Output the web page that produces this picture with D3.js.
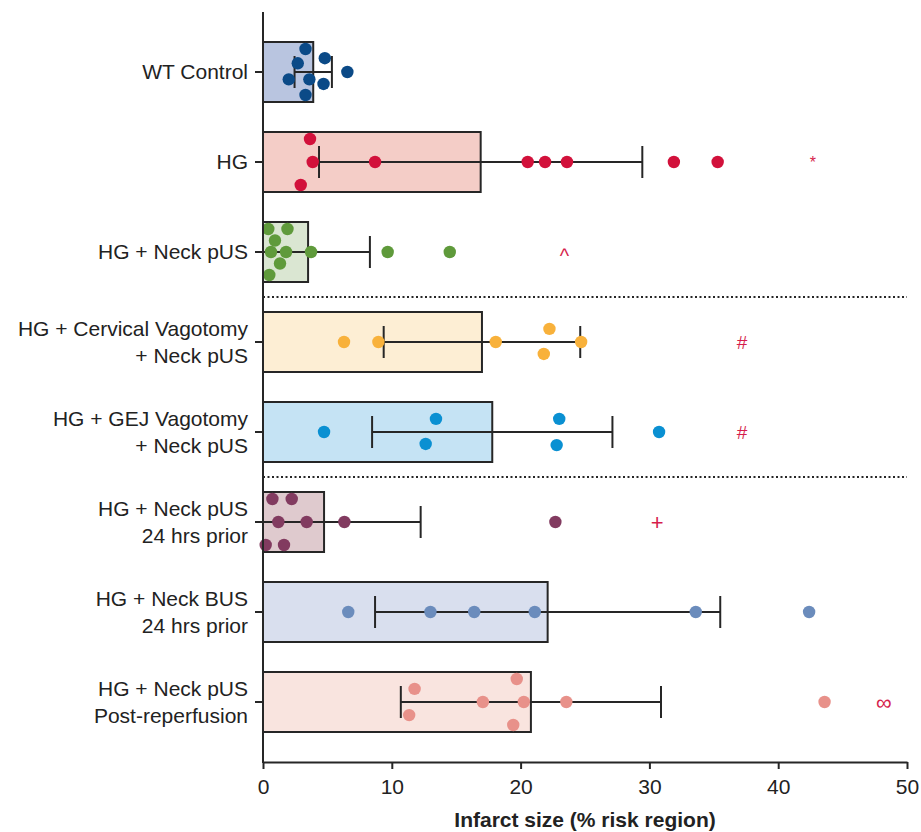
<!DOCTYPE html>
<html>
<head>
<meta charset="utf-8">
<script src="https://cdn.jsdelivr.net/npm/d3@7"></script>
<style>
  body { margin: 0; background: #fff; }
  text { font-family: "Liberation Sans", Arial, Helvetica, sans-serif; }
</style>
</head>
<body>
<div id="chart"></div>
<script>
// group labels (top to bottom)
const groups = [
    "WT Control",
    "HG",
    "HG + Neck pUS",
    "HG + Cervical Vagotomy\n+ Neck pUS",
    "HG + GEJ Vagotomy\n+ Neck pUS",
    "HG + Neck pUS\n24 hrs prior",
    "HG + Neck BUS\n24 hrs prior",
    "HG + Neck pUS\nPost-reperfusion"
];

// bar heights (mean) and error bar half-width
const means = [3.9, 16.9, 3.5, 17.0, 17.8, 4.74, 22.1, 20.8];
const errors = [1.45, 12.55, 4.8, 7.63, 9.33, 7.5, 13.4, 10.1];

// individual animals
const pointValues = [
    [3.3, 4.8, 2.7, 6.55, 2.0, 3.6, 4.7, 3.3],
    [3.65, 3.86, 2.93, 8.7, 20.55, 21.9, 23.6, 31.9, 35.3],
    [0.41, 1.9, 0.93, 0.62, 1.79, 3.73, 1.32, 0.49, 9.68, 14.5],
    [6.29, 8.96, 18.07, 22.24, 21.8, 24.7],
    [4.74, 13.43, 12.63, 23.0, 22.8, 30.75],
    [0.73, 2.23, 1.19, 3.39, 6.32, 0.21, 1.63, 22.7],
    [6.62, 13.0, 16.4, 21.1, 33.6, 42.4],
    [11.77, 11.35, 17.07, 20.25, 19.7, 19.43, 23.55, 43.6]
];
// swarm lane of each point (-1 = top, 1 = bottom)
const pointLanes = [
    [-1, -0.6, -0.38, 0, 0.32, 0.32, 0.52, 1],
    [-1, 0, 1, 0, 0, 0, 0, 0, 0],
    [-1, -1, -0.5, 0, 0, 0, 0.5, 1, 0, 0],
    [0, 0, 0, -0.57, 0.52, 0],
    [0, -0.57, 0.52, -0.57, 0.57, 0],
    [-1, -1, 0, 0, 0, 1, 1, 0],
    [0, 0, 0, 0, 0, 0],
    [-0.57, 0.57, 0, 0, -1, 1, 0, 0]
];

// significance symbols and where they sit on the x scale
const marks = ["", "*", "^", "#", "#", "+", "", "\u221e"];
const markX = [null, 42.7, 23.4, 37.2, 37.2, 30.6, null, 48.2];

const dotColors = ["#0b4a87", "#d2113b", "#5f9a3b", "#f8b13b", "#0a90d2", "#823b60", "#6b8cbc", "#e8918a"];
const barFills = ["#b9c5e0", "#f4cdc7", "#dae6d2", "#fdeed4", "#c5e3f4", "#dfcace", "#d9dfee", "#f9e4df"];

const xTicks = [0, 10, 20, 30, 40, 50];
const separators = [2, 4]; // dotted line after these rows

const width = 921, height = 832;
const ink = "#262626";
const markColor = "#d61e4c";
const fontSize = 21;

const rows = groups.map((g, i) => ({
    i, label: g, mean: means[i], err: errors[i],
    dots: pointValues[i].map((v, k) => ({ v, lane: pointLanes[i][k] })),
    mark: marks[i], markX: markX[i]
}));

const x = d3.scaleLinear().domain([0, 50]).range([263, 907]);
const y = d3.scaleBand().domain(groups).range([27, 747])
    .paddingInner(1 / 3).paddingOuter(1 / 6);
const lane = d3.scaleLinear().domain([-1, 1]).range([-23, 23]);
const cy = d => y(d.label) + y.bandwidth() / 2;

const svg = d3.create("svg")
    .attr("width", width)
    .attr("height", height);

// bars
svg.append("g")
    .selectAll("rect")
    .data(rows)
    .join("rect")
    .attr("x", x(0))
    .attr("y", d => y(d.label))
    .attr("width", d => x(d.mean) - x(0))
    .attr("height", y.bandwidth())
    .attr("fill", d => barFills[d.i])
    .attr("stroke", ink)
    .attr("stroke-width", 2);

// error bars (clipped at zero)
const eb = svg.append("g")
    .attr("stroke", ink)
    .attr("stroke-width", 2)
    .selectAll("g")
    .data(rows)
    .join("g");
eb.append("line")
    .attr("x1", d => x(Math.max(0, d.mean - d.err)))
    .attr("x2", d => x(d.mean + d.err))
    .attr("y1", cy)
    .attr("y2", cy);
eb.filter(d => d.mean - d.err > 0)
    .append("line")
    .attr("x1", d => x(d.mean - d.err))
    .attr("x2", d => x(d.mean - d.err))
    .attr("y1", d => cy(d) - 16)
    .attr("y2", d => cy(d) + 16);
eb.append("line")
    .attr("x1", d => x(d.mean + d.err))
    .attr("x2", d => x(d.mean + d.err))
    .attr("y1", d => cy(d) - 16)
    .attr("y2", d => cy(d) + 16);

// dots
svg.append("g")
    .selectAll("g")
    .data(rows)
    .join("g")
    .attr("fill", d => dotColors[d.i])
    .selectAll("circle")
    .data(d => d.dots.map(p => ({ ...p, label: d.label })))
    .join("circle")
    .attr("cx", d => x(d.v))
    .attr("cy", d => cy(d) + lane(d.lane))
    .attr("r", 6.2);

// significance marks
svg.append("g")
    .selectAll("text")
    .data(rows.filter(d => d.mark))
    .join("text")
    .attr("x", d => x(d.markX))
    .attr("y", cy)
    .attr("dy", d => d.mark === "^" ? "0.55em" : "0.35em")
    .attr("text-anchor", "middle")
    .attr("fill", markColor)
    .attr("font-size", d => d.mark === "*" ? 16 : d.mark === "#" ? 19 : d.mark === "^" ? 20 : 22)
    .text(d => d.mark);

// dotted separators
svg.append("g")
    .selectAll("line")
    .data(separators)
    .join("line")
    .attr("x1", x(0))
    .attr("x2", x(50))
    .attr("y1", d => y(groups[d]) + y.step() * 5 / 6)
    .attr("y2", d => y(groups[d]) + y.step() * 5 / 6)
    .attr("stroke", ink)
    .attr("stroke-width", 2)
    .attr("stroke-dasharray", "2,2.5");

// x axis
const xAxis = svg.append("g")
    .attr("transform", `translate(0, 762)`)
    .call(d3.axisBottom(x).tickValues(xTicks).tickSize(7).tickPadding(10).tickSizeOuter(0));
xAxis.select(".domain").attr("stroke", ink).attr("stroke-width", 2);
xAxis.selectAll(".tick line").attr("stroke", ink).attr("stroke-width", 2);
xAxis.selectAll(".tick text").attr("fill", "#222").attr("font-size", fontSize)
    .attr("font-family", "'Liberation Sans', Arial, sans-serif");

svg.append("text")
    .attr("x", 585)
    .attr("y", 827)
    .attr("text-anchor", "middle")
    .attr("font-size", fontSize)
    .attr("font-weight", "bold")
    .attr("fill", "#222")
    .text("Infarct size (% risk region)");

// y axis
svg.append("line")
    .attr("x1", x(0)).attr("x2", x(0))
    .attr("y1", 12).attr("y2", 763)
    .attr("stroke", ink)
    .attr("stroke-width", 2);

const yTicks = svg.append("g")
    .selectAll("g")
    .data(rows)
    .join("g")
    .attr("transform", d => `translate(0, ${cy(d)})`);
yTicks.append("line")
    .attr("x1", x(0) - 8)
    .attr("x2", x(0))
    .attr("stroke", ink)
    .attr("stroke-width", 2);
yTicks.append("text")
    .attr("text-anchor", "end")
    .attr("font-size", fontSize)
    .attr("fill", "#222")
    .each(function (d) {
        const lines = d.label.split("\n");
        d3.select(this).selectAll("tspan")
            .data(lines)
            .join("tspan")
            .attr("x", 248)
            .attr("y", (l, k) => (k - (lines.length - 1) / 2) * 27)
            .attr("dy", "0.35em")
            .text(l => l);
    });

document.getElementById("chart").appendChild(svg.node());
</script>
</body>
</html>
